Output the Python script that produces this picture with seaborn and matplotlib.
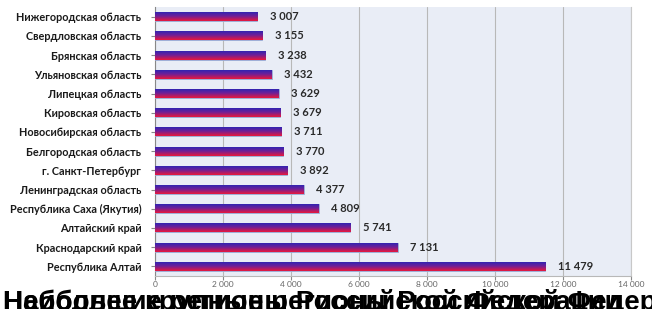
import matplotlib
matplotlib.use("Agg")
import matplotlib.pyplot as plt
from matplotlib.colors import LinearSegmentedColormap
import seaborn as sns
import numpy as np

# Data (top to bottom as shown)
regions = [
    "Нижегородская область", "Свердловская область", "Брянская область",
    "Ульяновская область", "Липецкая область", "Кировская область",
    "Новосибирская область", "Белгородская область", "г. Санкт-Петербург",
    "Ленинградская область", "Республика Саха (Якутия)", "Алтайский край",
    "Краснодарский край", "Республика Алтай",
]
values = [3007, 3155, 3238, 3432, 3629, 3679, 3711, 3770, 3892,
          4377, 4809, 5741, 7131, 11479]
x_ticks = [0, 2000, 4000, 6000, 8000, 10000, 12000, 14000]
footer_lines = [
    "Наиболее крупные регионы Российской Федерации по",
    "Небольшие регионы Российской Федерации",
]

sns.set_style("white")
plt.rcParams["font.family"] = ["Lato", "DejaVu Sans"]

fig = plt.figure(figsize=(6.52, 3.09), dpi=100)
ax = fig.add_axes([0.238, 0.107, 0.73, 0.87])
ax.set_facecolor("#e9edf6")

sns.barplot(x=values, y=regions, orient="h", width=0.47, color="#6a2090",
            edgecolor="#9fb6dd", linewidth=0.6, ax=ax, zorder=3)

# vertical blue->purple->red gradient clipped to each bar
cmap = LinearSegmentedColormap.from_list("flag", ["#2326b8", "#6e1f98", "#e8183c"])
grad = np.linspace(0, 1, 64).reshape(-1, 1)
xlim, ylim = (0, 14000), ax.get_ylim()
for p in ax.patches:
    b = p.get_bbox()
    im = ax.imshow(grad, cmap=cmap, aspect="auto", extent=[b.x0, b.x1, b.y1, b.y0],
                   origin="upper", zorder=4)
    im.set_clip_path(p)
ax.set_xlim(*xlim)
ax.set_ylim(ylim)

labels = [f"{v:,}".replace(",", " ") for v in values]
ax.bar_label(ax.containers[0], labels=labels, padding=9, fontsize=8,
             fontweight="bold", color="#2a2a2a")

ax.set_xticks(x_ticks)
ax.set_xticklabels([f"{t:,}".replace(",", " ") for t in x_ticks],
                   fontsize=6, color="#666666")
ax.xaxis.grid(True, color="#b8b8b8", linewidth=0.8, zorder=0)
ax.set_axisbelow(True)
ax.tick_params(axis="y", labelsize=7.8, length=3, color="#888888",
               direction="out", left=True, pad=7)
for lbl in ax.get_yticklabels():
    lbl.set_fontweight("bold")
    lbl.set_color("#1a1a1a")
ax.tick_params(axis="x", length=3, color="#888888", bottom=True, pad=1)
ax.set_xlabel("")
ax.set_ylabel("")
ax.spines["top"].set_visible(False)
ax.spines["left"].set_color("#888888")
ax.spines["bottom"].set_color("#b8b8b8")
ax.spines["right"].set_color("#c8c8c8")

# overlapping title text at the bottom (clipped by figure edge, as in the source)
for line in footer_lines:
    fig.text(0.005, 0.066, line, fontsize=20, fontweight="bold", color="black",
             va="top", ha="left", family=["Liberation Sans", "DejaVu Sans"])

fig.savefig("out.png", dpi=100)
